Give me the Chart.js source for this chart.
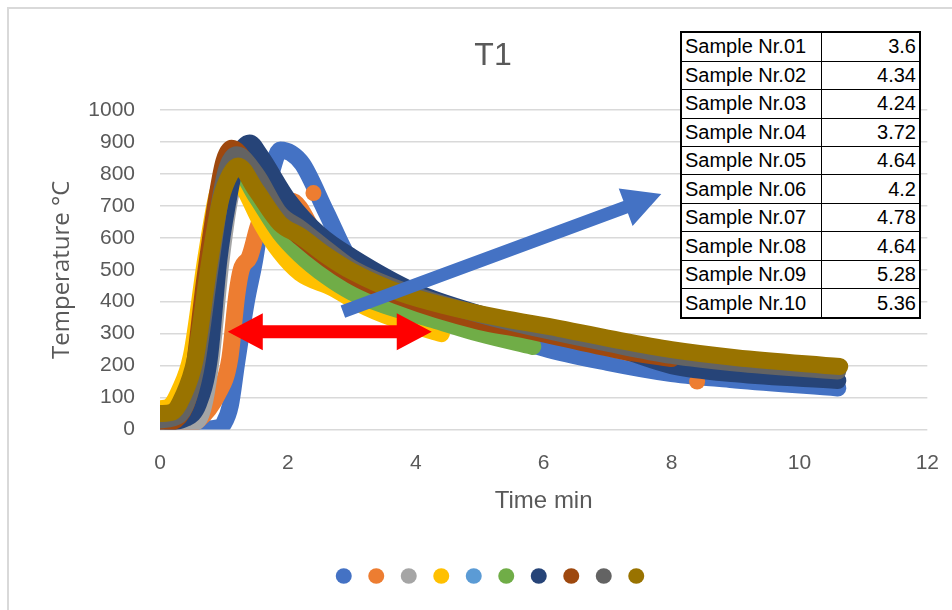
<!DOCTYPE html>
<html>
<head>
<meta charset="utf-8">
<title>T1</title>
<script src="https://cdn.jsdelivr.net/npm/chart.js@4.4.0/dist/chart.umd.min.js"></script>
<style>
  html, body { margin: 0; padding: 0; background: #fff; }
  #wrap { position: relative; width: 952px; height: 610px; overflow: hidden; }
  #frame { position: absolute; left: 7px; top: 7px; width: 1000px; height: 700px;
           border-top: 2px solid #d9d9d9; border-left: 2px solid #d9d9d9; }
  #chart { position: absolute; left: 0; top: 0; }
  #samples { position: absolute; left: 680px; top: 31px; width: 241px; height: 288px;
             border-collapse: collapse; background: #fff; border: 2px solid #000;
             font-family: "Liberation Sans", Arial, sans-serif; font-size: 20px; color: #000; }
  #samples td { border: 1.5px solid #000; padding: 0 3px; white-space: nowrap; }
  #samples td.v { text-align: right; }
  #samples td.n { width: 133px; }
</style>
</head>
<body>
<div id="wrap">
  <div id="frame"></div>
  <canvas id="chart" width="952" height="610"></canvas>
  <table id="samples"></table>
</div>
<script>
// table at the upper right
const sampleNames = ['Sample Nr.01', 'Sample Nr.02', 'Sample Nr.03', 'Sample Nr.04', 'Sample Nr.05',
                     'Sample Nr.06', 'Sample Nr.07', 'Sample Nr.08', 'Sample Nr.09', 'Sample Nr.10'];
const sampleValues = ['3.6', '4.34', '4.24', '3.72', '4.64', '4.2', '4.78', '4.64', '5.28', '5.36'];

const sampleColors = ['#4472C4', '#ED7D31', '#A5A5A5', '#FFC000', '#5B9BD5',
                      '#70AD47', '#264478', '#9E480E', '#636363', '#997300'];

// curves (time in min, temperature in °C)
const time01 = [0.2, 0.5, 0.9, 1.0, 1.1, 1.2, 1.35, 1.48, 1.6, 1.75, 1.88, 2.05, 2.23, 2.6, 3.0, 3.5, 4.0, 5.0, 6.0, 7.0, 8.0, 9.0, 10.6];
const temp01 = [0, 0, 5, 20, 75, 210, 400, 530, 680, 810, 875, 865, 830, 680, 520, 445, 400, 325, 255, 210, 175, 155, 130];

const time02 = [0.25, 0.6, 0.9, 1.09, 1.2, 1.27, 1.4, 1.56, 1.8, 2.05, 2.5, 3.0, 3.7, 4.5, 5.5, 6.5, 7.5, 8.0];
const temp02 = [5, 30, 110, 220, 420, 500, 540, 650, 715, 715, 590, 530, 450, 390, 325, 280, 232, 205];
const dots02Time = [2.4, 8.4];
const dots02Temp = [740, 150];

const time03 = [0, 0.4, 0.6, 0.7, 0.8, 0.95, 1.1, 1.3, 1.5, 2.0, 3.0, 4.0, 5.0, 6.0, 7.0];
const temp03 = [10, 15, 30, 90, 220, 520, 730, 845, 800, 670, 510, 420, 355, 305, 260];

const time04 = [0, 0.15, 0.3, 0.49, 0.72, 0.9, 1.1, 1.3, 1.6, 1.875, 2.19, 2.7, 3.23, 3.9, 4.4];
const temp04 = [65, 72, 120, 230, 540, 740, 815, 760, 640, 556, 490, 443, 382, 330, 300];

const time05 = [0, 0.3, 0.55, 0.8, 1.0, 1.2, 1.5, 2.0, 3.0, 4.0, 5.0];
const temp05 = [40, 60, 200, 540, 760, 815, 750, 620, 490, 410, 350];

const time06 = [0, 0.3, 0.55, 0.78, 1.0, 1.2, 1.5, 1.875, 2.19, 2.6, 3.0, 3.5, 4.27, 5.0, 5.83];
const temp06 = [40, 55, 210, 520, 760, 815, 730, 615, 547, 480, 430, 390, 344, 300, 260];

const time07 = [0, 0.4, 0.6, 0.77, 0.92, 1.05, 1.2, 1.4, 1.56, 2.0, 2.5, 3.0, 4.0, 5.0, 6.0, 7.2, 8.0, 9.0, 10.6];
const temp07 = [20, 35, 80, 220, 530, 700, 840, 897, 860, 720, 610, 540, 430, 362, 310, 250, 200, 174, 153];

const time08 = [0, 0.3, 0.5, 0.7, 0.9, 1.0, 1.12, 1.4, 1.8, 2.2, 3.0, 3.75, 5.0, 5.63, 7.2, 8.0];
const temp08 = [15, 40, 150, 470, 740, 840, 880, 820, 680, 600, 482, 415, 338, 315, 247, 222];

const time09 = [0, 0.3, 0.55, 0.78, 0.95, 1.05, 1.2, 1.5, 1.875, 2.19, 2.6, 3.0, 4.0, 5.0, 6.0, 7.0, 8.0, 9.0, 10.6];
const temp09 = [30, 45, 180, 500, 730, 820, 860, 800, 675, 630, 565, 505, 420, 360, 312, 270, 232, 208, 183];

const time10 = [0, 0.2, 0.35, 0.55, 0.78, 0.95, 1.1, 1.22, 1.5, 1.875, 2.19, 2.6, 3.0, 3.75, 4.5, 5.3, 6.25, 7.2, 8.0, 9.0, 10.63];
const temp10 = [50, 55, 100, 220, 530, 720, 800, 825, 750, 645, 606, 545, 495, 428, 385, 350, 316, 278, 250, 225, 197];

const allTimes = [time01, time02, time03, time04, time05, time06, time07, time08, time09, time10];
const allTemps = [temp01, temp02, temp03, temp04, temp05, temp06, temp07, temp08, temp09, temp10];

// arrows drawn on top (in axis units: [time, temperature])
const blueArrow = { from: [2.86, 369], to: [7.84, 737] };
const redArrow = { from: [1.06, 306], to: [4.25, 306] };

const tickColor = '#595959';

// table
const table = document.getElementById('samples');
sampleNames.forEach((name, i) => {
    const tr = document.createElement('tr');
    tr.innerHTML = '<td class="n">' + name + '</td><td class="v">' + sampleValues[i] + '</td>';
    table.appendChild(tr);
});

function toPoints(ts, vs) {
    return ts.map((t, k) => ({ x: t, y: vs[k] }));
}

const datasets = sampleNames.map((name, i) => ({
    label: name,
    data: toPoints(allTimes[i], allTemps[i]),
    borderColor: sampleColors[i],
    backgroundColor: sampleColors[i],
    borderWidth: 17,
    borderCapStyle: 'round',
    borderJoinStyle: 'round',
    pointRadius: 0,
    cubicInterpolationMode: 'monotone',
    order: sampleNames.length - i   // last sample on top, like Excel
}));

// lone orange markers
datasets.push({
    label: 'Sample Nr.02 markers',
    data: toPoints(dots02Time, dots02Temp),
    showLine: false,
    pointRadius: 8,
    pointBorderWidth: 0,
    pointBackgroundColor: sampleColors[1],
    order: sampleNames.length - 1
});

function drawArrow(ctx, x0, y0, x1, y1, w, hl, hw, both) {
    const len = Math.hypot(x1 - x0, y1 - y0);
    const ux = (x1 - x0) / len, uy = (y1 - y0) / len;
    const nx = -uy, ny = ux;
    const P = (a, b) => [x0 + ux * a + nx * b, y0 + uy * a + ny * b];
    let pts;
    if (both) {
        pts = [P(0, 0), P(hl, hw / 2), P(hl, w / 2), P(len - hl, w / 2), P(len - hl, hw / 2), P(len, 0),
               P(len - hl, -hw / 2), P(len - hl, -w / 2), P(hl, -w / 2), P(hl, -hw / 2)];
    } else {
        pts = [P(0, w / 2), P(len - hl, w / 2), P(len - hl, hw / 2), P(len, 0),
               P(len - hl, -hw / 2), P(len - hl, -w / 2), P(0, -w / 2)];
    }
    ctx.beginPath();
    pts.forEach((p, k) => k ? ctx.lineTo(p[0], p[1]) : ctx.moveTo(p[0], p[1]));
    ctx.closePath();
    ctx.fill();
}

const arrowPlugin = {
    id: 'arrows',
    afterDatasetsDraw(chart) {
        const { ctx } = chart;
        const x = chart.scales.x, y = chart.scales.y;
        ctx.save();
        ctx.fillStyle = '#4472C4';
        drawArrow(ctx, x.getPixelForValue(blueArrow.from[0]), y.getPixelForValue(blueArrow.from[1]),
                  x.getPixelForValue(blueArrow.to[0]), y.getPixelForValue(blueArrow.to[1]), 13, 38, 40, false);
        ctx.fillStyle = '#FF0000';
        drawArrow(ctx, x.getPixelForValue(redArrow.from[0]), y.getPixelForValue(redArrow.from[1]),
                  x.getPixelForValue(redArrow.to[0]), y.getPixelForValue(redArrow.to[1]), 13, 35, 37, true);
        ctx.restore();
    }
};

new Chart(document.getElementById('chart').getContext('2d'), {
    type: 'line',
    data: { datasets },
    plugins: [arrowPlugin],
    options: {
        responsive: false,
        animation: false,
        devicePixelRatio: 1,
        layout: { padding: { left: 50, right: 16, top: 0, bottom: 18 } },
        scales: {
            x: {
                type: 'linear',
                min: 0,
                max: 12,
                ticks: { stepSize: 2, color: tickColor, padding: 13, font: { family: 'Liberation Sans', size: 21 } },
                grid: { display: false },
                border: { display: false },
                title: {
                    display: true,
                    text: 'Time min',
                    color: tickColor,
                    font: { family: 'Liberation Sans', size: 24 },
                    padding: { top: 0, bottom: 43.6 }
                },
                afterFit: (scale) => { scale.height = 130; }
            },
            y: {
                min: 0,
                max: 1000,
                ticks: {
                    stepSize: 100, color: tickColor, padding: 25,
                    font: { family: 'Liberation Sans', size: 21 },
                    callback: (v) => String(v)
                },
                grid: { color: '#d9d9d9', lineWidth: 1.5, drawTicks: false },
                border: { display: false },
                title: {
                    display: true,
                    text: 'Temperature °C',
                    color: tickColor,
                    font: { family: 'Open Sans', size: 24, lineHeight: 1 },
                    padding: { top: 0, bottom: 0 }
                },
                afterFit: (scale) => { scale.width = 110; }
            }
        },
        plugins: {
            title: {
                display: true,
                text: 'T1',
                color: tickColor,
                font: { family: 'Liberation Sans', size: 32, weight: 'normal' },
                padding: { top: 37, bottom: 34.6 }
            },
            legend: {
                position: 'bottom',
                labels: {
                    usePointStyle: true,
                    pointStyleWidth: 16,
                    boxHeight: 11,
                    padding: 10.5,
                    font: { size: 12 },
                    generateLabels: () => sampleColors.map((c, i) => ({
                        text: '',
                        fillStyle: c,
                        strokeStyle: c,
                        lineWidth: 0,
                        pointStyle: 'circle',
                        hidden: false,
                        datasetIndex: i
                    }))
                }
            },
            tooltip: { enabled: false }
        }
    }
});
</script>
</body>
</html>
